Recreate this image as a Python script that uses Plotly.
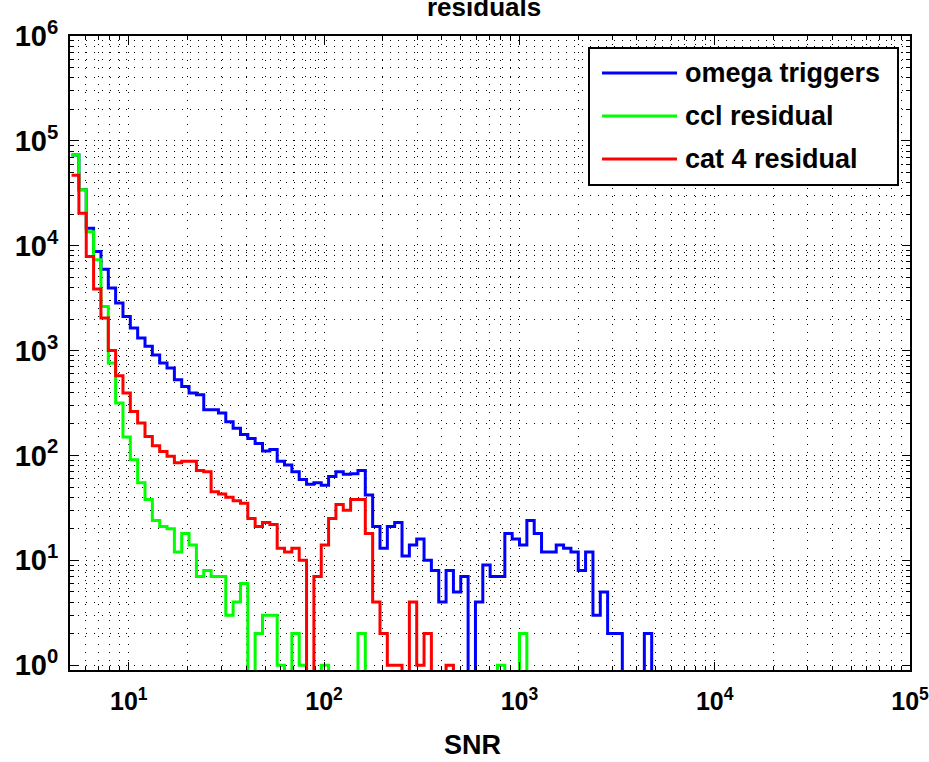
import numpy as np
import plotly.graph_objects as go

# ---------------- data ----------------
# log-spaced histogram bins (log10 start and log10 width of each bin)
bin_log_start = 0.707
bin_log_step = 0.0376
n_bins = 80

omega_triggers = [73500, 34100, 14700, 8800, 5980, 3950, 2840, 2110, 1640, 1320,
                  1100, 910, 760, 682, 527, 455, 394, 380, 273, 273,
                  254, 210, 182, 158, 145, 130, 110, 114, 88, 81,
                  70, 59, 53, 55, 52, 63, 70, 66, 67, 72,
                  42, 21, 13, 21, 23, 11, 14, 16, 10, 8,
                  4, 8, 5, 7, 0, 4, 9, 7, 7, 18,
                  16, 14, 24, 18, 12, 12, 14, 13, 12, 8,
                  12, 3, 5, 2, 2, 0, 0, 0, 2]
ccl_residual = [73500, 34100, 13600, 7350, 2640, 760, 316, 150, 91, 55,
                38, 24, 21, 20, 12, 18, 14, 7, 8, 7,
                7, 3, 4, 6, 0, 2, 3, 3, 1, 0,
                2, 1, 0, 0, 1, 0, 0, 0, 0, 2,
                0, 0, 0, 0, 0, 0, 0, 0, 0, 0,
                0, 0, 0, 0, 0, 0, 0, 0, 1, 0,
                0, 2]
cat4_residual = [47000, 20400, 7900, 3860, 2040, 1000, 575, 394, 263, 204,
                 152, 124, 109, 98, 85, 88, 88, 72, 70, 45,
                 43, 40, 37, 35, 25, 21, 23, 22, 13, 12,
                 13, 10, 0, 7, 14, 25, 34, 30, 38, 38,
                 18, 4, 2, 1, 1, 0, 4, 1, 2, 0,
                 0, 1]

series_names = ["omega triggers", "ccl residual", "cat 4 residual"]
series_colors = ["#0000ff", "#00ff00", "#ff0000"]

x_tick_vals = [10, 100, 1000, 10000, 100000]
x_tick_text = ["10<sup>1</sup>", "10<sup>2</sup>", "10<sup>3</sup>", "10<sup>4</sup>", "10<sup>5</sup>"]
y_tick_vals = [1, 10, 100, 1000, 10000, 100000, 1000000]
y_tick_text = ["10<sup>0</sup>", "10<sup>1</sup>", "10<sup>2</sup>", "10<sup>3</sup>",
               "10<sup>4</sup>", "10<sup>5</sup>", "10<sup>6</sup>"]
title_text = "residuals"
x_title = "SNR"

# ---------------- figure ----------------
W, H = 929, 762
ML, MR, MT, MB = 70, 19, 36, 92
PW, PH = W - ML - MR, H - MT - MB

edges = 10 ** (bin_log_start + bin_log_step * np.arange(n_bins + 1))
FLOOR = 1e-3  # empty bins are drawn below the axis, like log(0) in the original


def stairs(vals):
    v = np.zeros(n_bins)
    v[:len(vals)] = vals
    v = np.where(v > 0, v, FLOOR)
    y = np.append(v, v[-1])
    return edges, y


fig = go.Figure()
for vals, name, col in zip([omega_triggers, ccl_residual, cat4_residual], series_names, series_colors):
    x, y = stairs(vals)
    fig.add_trace(go.Scatter(x=x, y=y, mode="lines", name=name,
                             line=dict(color=col, width=3, shape="hv"),
                             showlegend=False, hoverinfo="skip"))

font_family = "Liberation Sans, Arial, sans-serif"
grid_dash = "1px,7px"

axis_common = dict(
    type="log", showline=True, linecolor="black", linewidth=2, mirror="allticks",
    ticks="inside", ticklen=8, tickwidth=1, tickcolor="black",
    showgrid=True, gridcolor="black", gridwidth=1, griddash=grid_dash,
    zeroline=False, automargin=False, ticklabeloverflow="allow",
    minor=dict(dtick="D1", ticks="inside", ticklen=4, tickcolor="black", tickwidth=1,
               showgrid=True, gridcolor="black", gridwidth=1, griddash=grid_dash),
)

fig.update_xaxes(**axis_common, range=[np.log10(5), 5], tickmode="array",
                 tickvals=x_tick_vals, ticktext=x_tick_text, ticklabelstandoff=8,
                 tickfont=dict(family=font_family, size=25, color="black", weight="bold"))
fig.update_yaxes(**axis_common, range=[-0.046, 6], tickmode="array",
                 tickvals=y_tick_vals, ticktext=y_tick_text, ticklabelstandoff=4,
                 tickfont=dict(family=font_family, size=29, color="black", weight="bold"))


def px(xp):
    return (xp - ML) / PW


def py(yp):
    return (H - MB - yp) / PH


shapes = [dict(type="rect", xref="paper", yref="paper", x0=px(589), x1=px(898), y0=py(185), y1=py(48),
               line=dict(color="black", width=2), fillcolor="white", layer="above")]
annotations = []
rows_y = [73, 116, 159]
for name, col, ry in zip(series_names, series_colors, rows_y):
    shapes.append(dict(type="line", xref="paper", yref="paper", x0=px(602), x1=px(677), y0=py(ry), y1=py(ry),
                       line=dict(color=col, width=3), layer="above"))
    annotations.append(dict(xref="paper", yref="paper", x=px(683), y=py(ry), text=name, showarrow=False,
                            xanchor="left", yanchor="middle",
                            font=dict(family=font_family, size=27, color="black", weight="bold")))

# axis label and (partly cut-off) title, positioned as in the original
annotations.append(dict(xref="paper", yref="paper", x=px(472), y=py(745), text=x_title, showarrow=False,
                        xanchor="center", yanchor="middle",
                        font=dict(family=font_family, size=27, color="black", weight="bold")))
annotations.append(dict(xref="paper", yref="paper", x=px(484), y=py(7), text=title_text, showarrow=False,
                        xanchor="center", yanchor="middle",
                        font=dict(family=font_family, size=26, color="black", weight="bold")))

fig.update_layout(width=W, height=H, margin=dict(l=ML, r=MR, t=MT, b=MB, autoexpand=False),
                  paper_bgcolor="white", plot_bgcolor="white",
                  shapes=shapes, annotations=annotations, showlegend=False)

fig.write_html("out.html")
